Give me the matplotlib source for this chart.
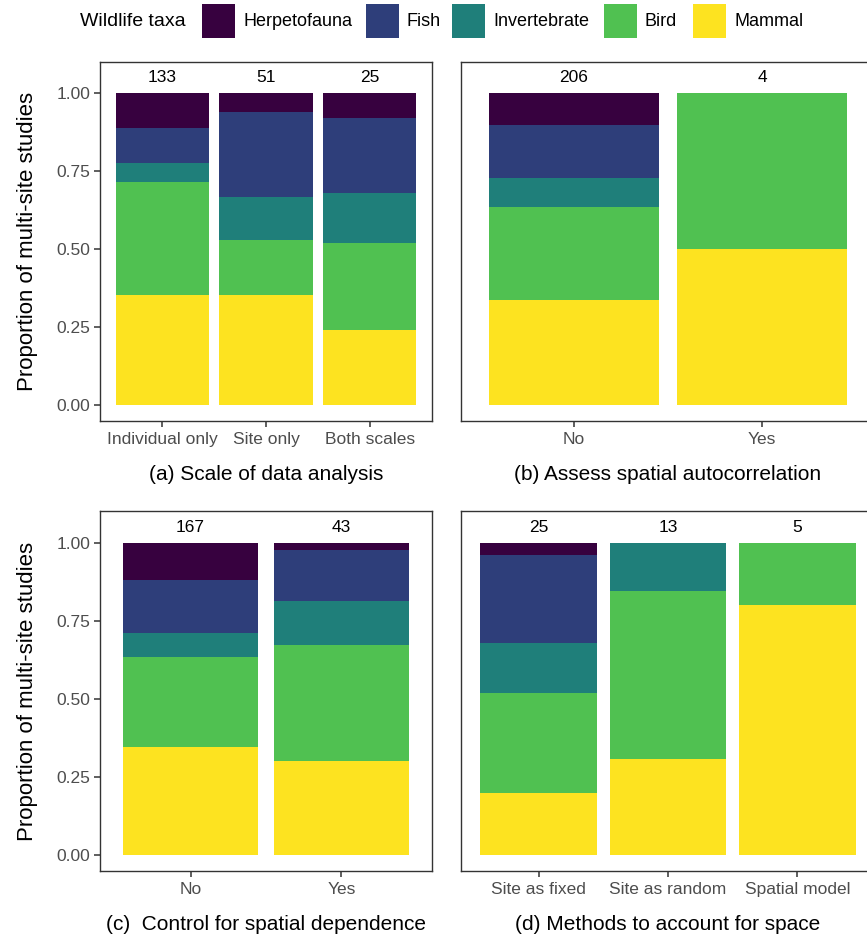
import matplotlib
matplotlib.use("Agg")
import matplotlib.pyplot as plt
from matplotlib.patches import Rectangle
import numpy as np

plt.rcParams['font.family'] = ['Liberation Sans', 'DejaVu Sans']

taxa = ["Mammal", "Bird", "Invertebrate", "Fish", "Herpetofauna"]
colours = {"Herpetofauna": "#37013f", "Fish": "#2e3e7a", "Invertebrate": "#1f7f7a",
           "Bird": "#50c151", "Mammal": "#fde320"}

# study counts per category, ordered Mammal, Bird, Invertebrate, Fish, Herpetofauna
scale_cats = ["Individual only", "Site only", "Both scales"]
scale_counts = [[47, 48, 8, 15, 15], [18, 9, 7, 14, 3], [6, 7, 4, 6, 2]]

assess_cats = ["No", "Yes"]
assess_counts = [[69, 62, 19, 35, 21], [2, 2, 0, 0, 0]]

control_cats = ["No", "Yes"]
control_counts = [[58, 48, 13, 28, 20], [13, 16, 6, 7, 1]]

method_cats = ["Site as fixed", "Site as random", "Spatial model"]
method_counts = [[5, 8, 4, 7, 1], [4, 7, 2, 0, 0], [4, 1, 0, 0, 0]]

panels = [
    (scale_cats, scale_counts, "(a) Scale of data analysis"),
    (assess_cats, assess_counts, "(b) Assess spatial autocorrelation"),
    (control_cats, control_counts, "(c)  Control for spatial dependence"),
    (method_cats, method_counts, "(d) Methods to account for space"),
]

W, H = 867, 943
fig = plt.figure(figsize=(W / 100, H / 100), dpi=100)

# axes boxes in pixels: left, top, right, bottom
boxes = [(100, 62, 432, 420.5), (461, 62, 875, 420.5),
         (100, 511.5, 432, 871), (461, 511.5, 875, 871)]

tick_col = "#4d4d4d"
for i, ((cats, counts, title), (l, t, r, b)) in enumerate(zip(panels, boxes)):
    ax = fig.add_axes([l / W, 1 - b / H, (r - l) / W, (b - t) / H])
    counts = np.array(counts, dtype=float)
    totals = counts.sum(axis=1)
    props = counts / totals[:, None]
    x = np.arange(1, len(cats) + 1)
    bottom = np.zeros(len(cats))
    for j, taxon in enumerate(taxa):
        ax.bar(x, props[:, j], width=0.9, bottom=bottom, color=colours[taxon],
               linewidth=0)
        bottom += props[:, j]
    for xi, n in zip(x, totals):
        ax.text(xi, 1.05, str(int(n)), ha="center", va="center", fontsize=12.5,
                color="black")
    ax.set_xlim(0.4, len(cats) + 0.6)
    ax.set_ylim(-0.05, 1.1)
    ax.set_xticks(x)
    ax.set_xticklabels(cats, fontsize=12.5, color=tick_col)
    ax.tick_params(axis="x", length=4, width=1.1, color="#333333", pad=4)
    if i % 2 == 0:
        ax.set_yticks([0, 0.25, 0.5, 0.75, 1.0])
        ax.set_yticklabels(["0.00", "0.25", "0.50", "0.75", "1.00"],
                           fontsize=12.5, color=tick_col)
        ax.tick_params(axis="y", length=4, width=1.1, color="#333333", pad=3)
        ax.set_ylabel("Proportion of multi-site studies", fontsize=16,
                      labelpad=13)
    else:
        ax.set_yticks([])
    ax.set_xlabel(title, fontsize=15, labelpad=13)
    for sp in ax.spines.values():
        sp.set_color("#333333")
        sp.set_linewidth(1.0)

# legend along the top
fig.text(80 / W, 1 - 21 / H, "Wildlife taxa", fontsize=14, ha="left",
         va="center")
legend_order = ["Herpetofauna", "Fish", "Invertebrate", "Bird", "Mammal"]
key_x = [202, 366, 452, 604, 693]
for name, kx in zip(legend_order, key_x):
    fig.patches.append(Rectangle((kx / W, 1 - 38 / H), 33 / W, 34 / H,
                                 transform=fig.transFigure,
                                 color=colours[name], linewidth=0))
    fig.text((kx + 41) / W, 1 - 21 / H, name, fontsize=13, ha="left",
             va="center")

fig.savefig("out.png", dpi=100)
